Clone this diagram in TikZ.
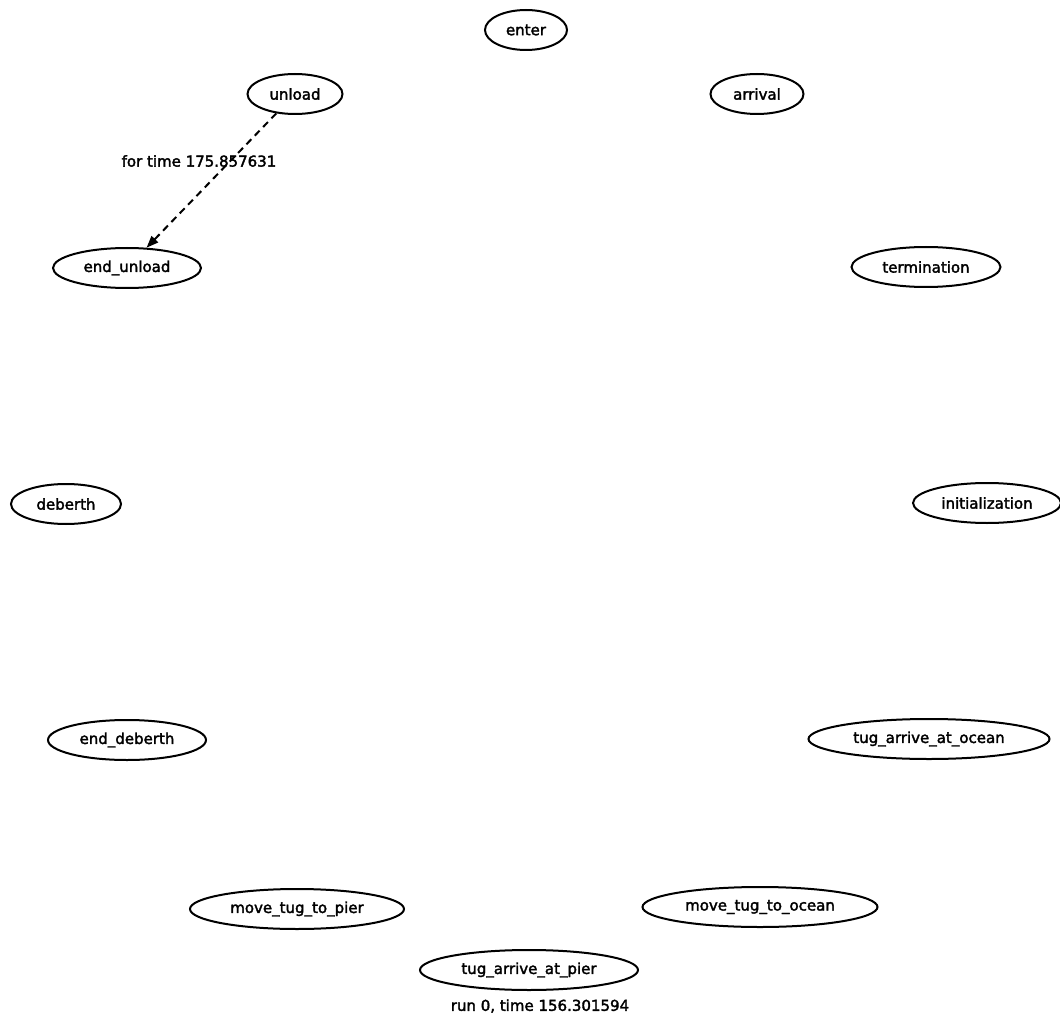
\documentclass[tikz,border=0pt]{standalone}
\usepackage{fontspec}
\newfontfamily\gvfont[FakeBold=2.2]{DejaVu Sans}
\usetikzlibrary{shapes.geometric,arrows.meta}
\begin{document}
\begin{tikzpicture}[x=1pt,y=-1pt,
  state/.style={draw=black,line width=2pt,ellipse,inner sep=0pt,minimum height=40pt,font=\gvfont\fontsize{15}{17}\selectfont},
  lbl/.style={inner sep=0pt,font=\gvfont\fontsize{15}{17}\selectfont},
  dashedge/.style={draw=black,line width=2pt,dash pattern=on 7pt off 5pt,-{Triangle[length=12pt,width=9pt]}}]
\useasboundingbox (0,0) rectangle (1060,1016);
\node[state,minimum width=82pt]  (enter)   at (526,30)  {enter};
\node[state,minimum width=95pt]  (unload)  at (295,94)  {unload};
\node[state,minimum width=93pt]  (arrival) at (757,94)  {arrival};
\node[state,minimum width=148pt] (endunload) at (127,268) {end\_unload};
\node[state,minimum width=149pt] (termination) at (926,267) {termination};
\node[state,minimum width=110pt] (deberth) at (66,504) {deberth};
\node[state,minimum width=148pt] (initialization) at (987,503) {initialization};
\node[state,minimum width=158pt] (enddeberth) at (127,740) {end\_deberth};
\node[state,minimum width=241pt] (tugocean) at (929,739) {tug\_arrive\_at\_ocean};
\node[state,minimum width=214pt] (movepier) at (297,909) {move\_tug\_to\_pier};
\node[state,minimum width=235pt] (moveocean) at (760,907) {move\_tug\_to\_ocean};
\node[state,minimum width=218pt] (tugpier) at (529,970) {tug\_arrive\_at\_pier};
\node[lbl] (runlbl) at (540,1006) {run 0, time 156.301594};
\draw[dashedge] (unload) -- (endunload);
\node[lbl] (forlbl) at (199,161) {for time 175.857631};
\end{tikzpicture}
\end{document}
